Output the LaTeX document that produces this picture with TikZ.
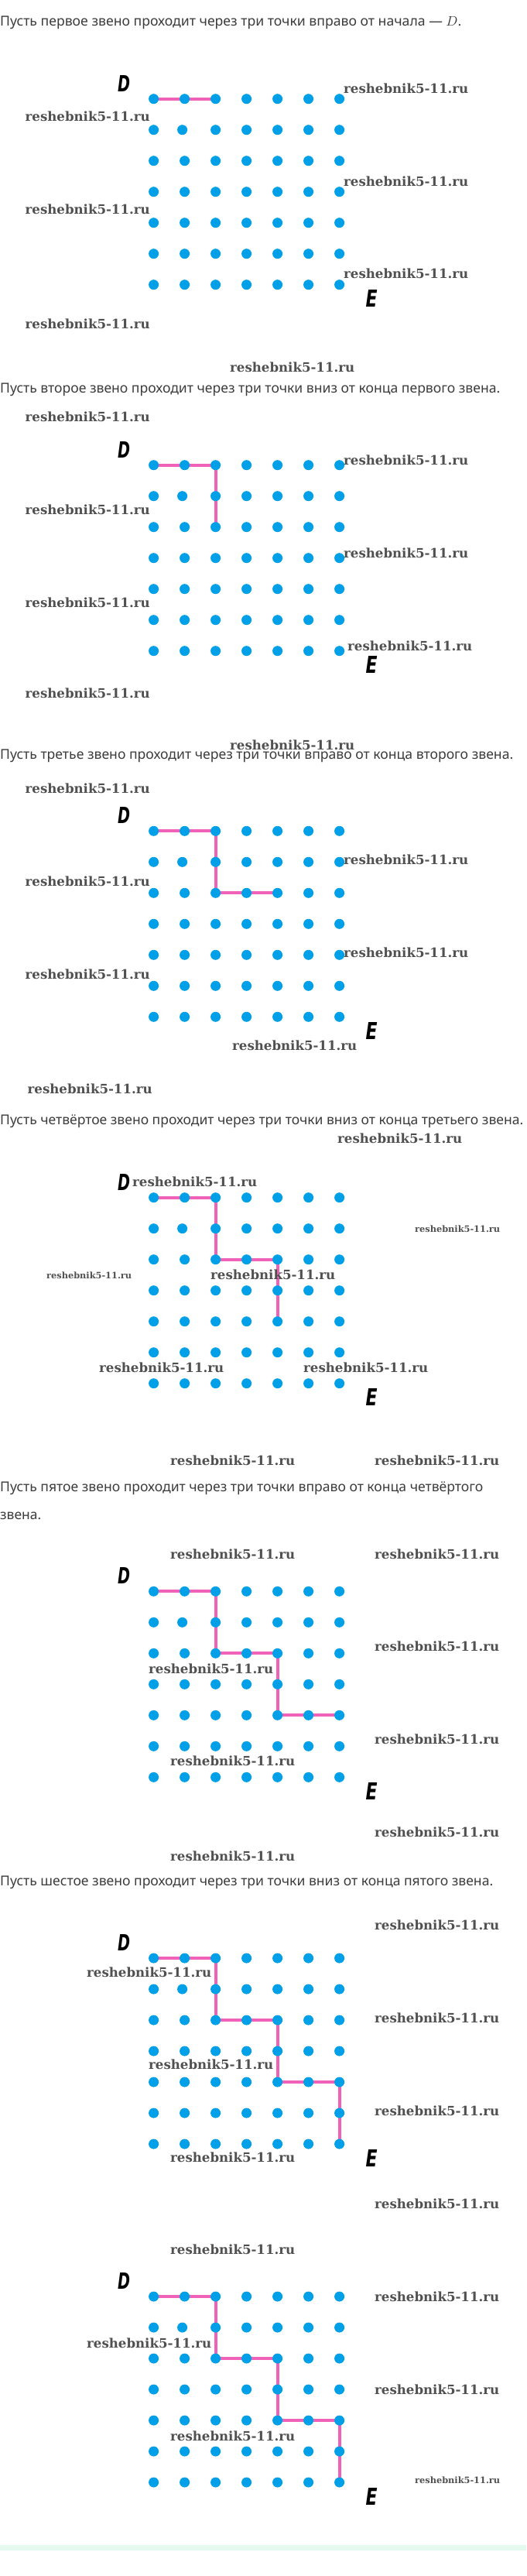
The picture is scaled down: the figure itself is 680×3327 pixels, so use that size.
\documentclass[tikz,border=0pt]{standalone}
\usepackage{fontspec}
\usepackage{graphicx}
\setmainfont{Noto Sans}
\newfontfamily\wmfont{DejaVu Serif}
\newfontfamily\lblfont{DejaVu Sans}
\definecolor{dotblue}{RGB}{0,160,233}
\definecolor{pathpink}{RGB}{240,98,184}
\definecolor{txtgray}{RGB}{60,60,60}
\definecolor{wmgray}{RGB}{80,80,80}
\definecolor{mint}{RGB}{228,250,238}
\pgfdeclarelayer{bg}
\pgfsetlayers{bg,main}
\tikzset{
  dot/.style={circle, fill=dotblue, inner sep=0pt, minimum size=13pt},
  pinkline/.style={draw=pathpink, line width=4pt, line join=miter},
  wm/.style={anchor=west, inner sep=0pt, text=wmgray},
  head/.style={anchor=west, inner sep=0pt, text=txtgray},
  lbl/.style={inner sep=0pt, text=black},
}
\newcommand{\wmtext}[1]{\resizebox{#1pt}{!}{\wmfont\bfseries reshebnik5-11.ru}}
\newcommand{\dotpanel}[2]{%
  \foreach \j in {0,...,6} {
    \foreach \i in {0,...,6} {
      \pgfmathsetmacro{\xx}{198.6+40*\i-ifthenelse(and(\i==1,\j==1),3,0)}
      \node[dot] (#1-\i-\j) at (\xx, #2+40*\j) {};
    }
  }
  \node[lbl] (#1-D) at (160,#2-20) {\resizebox{16pt}{21pt}{\lblfont\bfseries\itshape D}};
  \node[lbl] (#1-E) at (480,#2+258) {\resizebox{15pt}{22pt}{\lblfont\bfseries\itshape E}};
}
\begin{document}
\begin{tikzpicture}[x=1pt,y=-1pt]
\useasboundingbox (0,0) rectangle (680,3327);
\begin{pgfonlayer}{bg}
\fill[white] (0,0) rectangle (680,3327);
\fill[mint] (0,3287) rectangle (680,3294);
\end{pgfonlayer}

% headings
\node[head] (t1) at (0,29) {\resizebox{596pt}{!}{Пусть первое звено проходит через три точки вправо от начала~— $D$.}};
\node[head] (t2) at (0,503) {\resizebox{646pt}{!}{Пусть второе звено проходит через три точки вниз от конца первого звена.}};
\node[head] (t3) at (0,976) {\resizebox{663pt}{!}{Пусть третье звено проходит через три точки вправо от конца второго звена.}};
\node[head] (t4) at (0,1448) {\resizebox{676pt}{!}{Пусть четвёртое звено проходит через три точки вниз от конца третьего звена.}};
\node[head] (t5) at (0,1922) {\resizebox{624pt}{!}{Пусть пятое звено проходит через три точки вправо от конца четвёртого}};
\node[head] (t5b) at (0,1958) {\resizebox{53pt}{!}{звена.}};
\node[head] (t6) at (0,2431) {\resizebox{637pt}{!}{Пусть шестое звено проходит через три точки вниз от конца пятого звена.}};

% dot panels
\dotpanel{a}{127.7}
\dotpanel{b}{600.7}
\dotpanel{c}{1073.3}
\dotpanel{d}{1546.7}
\dotpanel{e}{2055.3}
\dotpanel{f}{2529}
\dotpanel{g}{2966}

% polylines under the dots
\begin{pgfonlayer}{bg}
\draw[pinkline] (a-0-0.center) -- (a-2-0.center);
\draw[pinkline] (b-0-0.center) -- (b-2-0.center) -- (b-2-2.center);
\draw[pinkline] (c-0-0.center) -- (c-2-0.center) -- (c-2-2.center) -- (c-4-2.center);
\draw[pinkline] (d-0-0.center) -- (d-2-0.center) -- (d-2-2.center) -- (d-4-2.center) -- (d-4-4.center);
\draw[pinkline] (e-0-0.center) -- (e-2-0.center) -- (e-2-2.center) -- (e-4-2.center) -- (e-4-4.center) -- (e-6-4.center);
\draw[pinkline] (f-0-0.center) -- (f-2-0.center) -- (f-2-2.center) -- (f-4-2.center) -- (f-4-4.center) -- (f-6-4.center) -- (f-6-6.center);
\draw[pinkline] (g-0-0.center) -- (g-2-0.center) -- (g-2-2.center) -- (g-4-2.center) -- (g-4-4.center) -- (g-6-4.center) -- (g-6-6.center);
\end{pgfonlayer}

% watermarks
\foreach \x/\y/\w [count=\n] in {
  444/114/161, 32.5/150/161, 444/234/161, 32.5/270/161, 444/353/161, 32.5/418/161,
  297/474/161, 32.5/538/161, 444/594/161, 32.5/658/161, 444/714/161, 32.5/778/161, 449/834/161, 32.5/895/161,
  297/962/161, 32.5/1018/161, 444/1110/161, 32.5/1138/161, 444/1230/161, 32.5/1258/161, 300/1350/161, 35.5/1406/161,
  436/1470/161, 171/1526/161, 536/1587/110, 60/1647/110, 272/1646/161, 128/1766/161, 392/1766/161, 220/1886/161, 484/1886/161,
  220/2007/161, 484/2007/161, 484/2126/161, 192/2155/161, 484/2246/161, 220/2274/161, 484/2366/161, 220/2397/161,
  484/2486/161, 112/2547/161, 484/2606/161, 192/2666/161, 484/2726/161, 220/2786/161, 484/2846/161, 220/2905/161,
  484/2966/161, 112/3026/161, 484/3086/161, 220/3146/161, 536/3203/110}
  { \node[wm] (wm\n) at (\x,\y) {\wmtext{\w}}; }
\end{tikzpicture}
\end{document}
